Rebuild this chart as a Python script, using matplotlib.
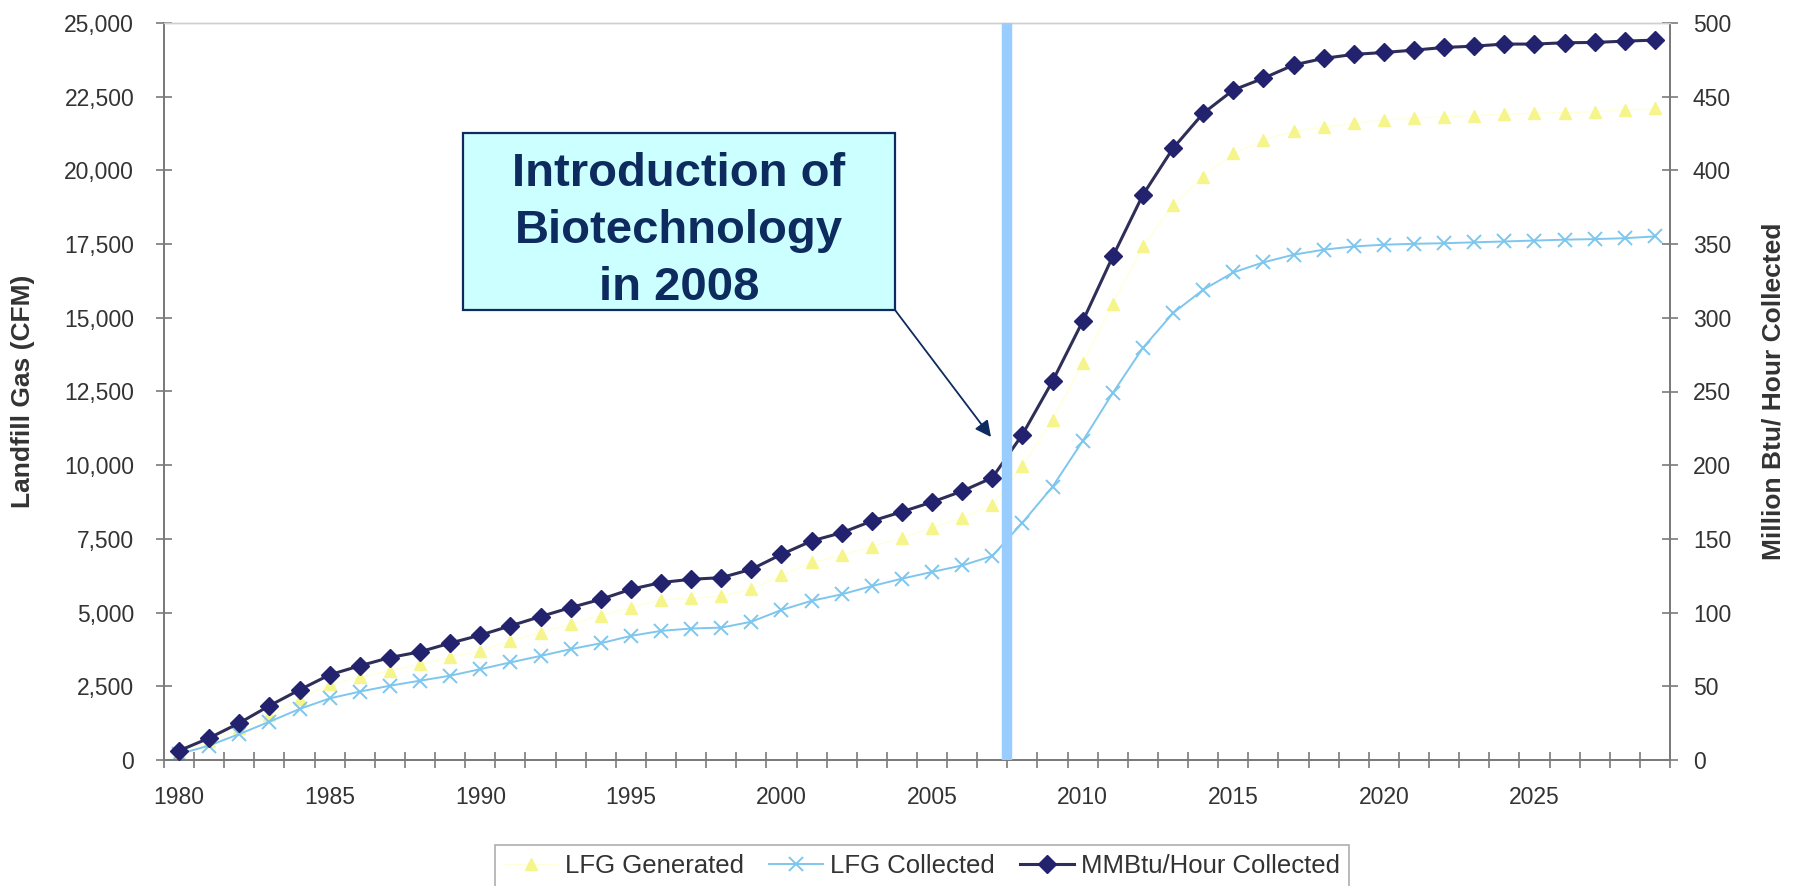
import matplotlib
matplotlib.use('Agg')
import matplotlib.pyplot as plt
from matplotlib.patches import Rectangle, FancyArrowPatch
from matplotlib.lines import Line2D
from matplotlib.ticker import FuncFormatter

plt.rcParams['font.family'] = ['Liberation Sans', 'DejaVu Sans']

# ---------------- data ----------------
years = list(range(1980, 2030))

lfg_generated = [260, 640, 1080, 1520, 2060, 2570, 2800, 3030, 3250, 3480,
                 3700, 4040, 4320, 4600, 4900, 5170, 5430, 5480, 5570, 5790,
                 6270, 6700, 6940, 7240, 7540, 7880, 8220, 8650, 9970, 11550,
                 13470, 15480, 17420, 18830, 19790, 20580, 21030, 21330, 21460, 21600,
                 21710, 21770, 21820, 21850, 21910, 21940, 21960, 21990, 22050, 22100]

lfg_collected = [200, 490, 880, 1300, 1730, 2090, 2320, 2520, 2690, 2860,
                 3080, 3310, 3530, 3760, 3960, 4210, 4380, 4460, 4490, 4690,
                 5090, 5400, 5620, 5900, 6150, 6380, 6600, 6920, 8050, 9270,
                 10820, 12450, 13980, 15160, 15950, 16540, 16880, 17140, 17310, 17420,
                 17480, 17510, 17530, 17560, 17590, 17620, 17650, 17670, 17700, 17760]

mmbtu_collected = [6.3, 14.9, 25.1, 36.8, 47.6, 57.8, 63.9, 69.5, 73.4, 79.3,
                   84.7, 91.0, 97.3, 103.4, 109.0, 115.8, 120.4, 122.6, 123.7, 129.4,
                   139.5, 148.6, 154.2, 162.1, 168.4, 175.0, 182.4, 191.5, 220.8, 257.0,
                   297.6, 341.6, 383.4, 415.0, 438.7, 454.5, 462.5, 471.5, 476.0, 478.7,
                   480.0, 481.6, 483.4, 484.3, 485.7, 485.7, 486.6, 486.8, 487.7, 488.4]

series_labels = ['LFG Generated', 'LFG Collected', 'MMBtu/Hour Collected']
left_ticks = list(range(0, 25001, 2500))
right_ticks = list(range(0, 501, 50))
x_label_years = list(range(1980, 2026, 5))
intro_year = 2007.5
annotation_text = "Introduction of\nBiotechnology\nin 2008"

# ---------------- styles ----------------
YELLOW = '#F5F58C'
YELLOW_LINE = '#FFFFDC'
LBLUE = '#7EC6EE'
NAVY = '#22226E'
NAVY_LINE = '#2E2E58'
BAR = '#99CCFF'
TXT = '#333333'
AXC = '#7A7A7A'
DARK = '#0D2B5E'

W, H = 1799, 886
fig = plt.figure(figsize=(W / 100, H / 100), dpi=100)
L, R, T, B = 164, 1670, 23, 760
ax = fig.add_axes([L / W, 1 - B / H, (R - L) / W, (B - T) / H])
ax2 = ax.twinx()

ax.plot(years, lfg_generated, color=YELLOW_LINE, lw=1.0, marker='^', ms=8,
        mfc=YELLOW, mec=YELLOW, zorder=3)
ax.plot(years, lfg_collected, color=LBLUE, lw=1.4, marker='x', ms=9.5, mew=1.4,
        mec=LBLUE, zorder=4)
ax2.plot(years, mmbtu_collected, color=NAVY_LINE, lw=2.2, marker='D', ms=9,
         mfc=NAVY, mec=NAVY, zorder=5)

ax2.axvline(intro_year, color=BAR, lw=7.5, zorder=10)

# x axis (category style)
ax.set_xlim(years[0] - 0.5, years[-1] + 0.5)
ax.set_xticks(x_label_years)
ax.set_xticks([y - 0.5 for y in years] + [years[-1] + 0.5], minor=True)
ax.tick_params(axis='x', which='major', length=0, pad=19, labelsize=16.5, labelcolor=TXT)
ax.tick_params(axis='x', which='minor', direction='inout', length=12, width=1.2, color=AXC)

ax.set_ylim(0, 25000)
ax.set_yticks(left_ticks)
ax.yaxis.set_major_formatter(FuncFormatter(lambda v, p: f'{v:,.0f}'))
ax.tick_params(axis='y', direction='inout', length=11, width=1.2, color=AXC,
               pad=16, labelsize=16.5, labelcolor=TXT)

ax2.set_ylim(0, 500)
ax2.set_yticks(right_ticks)
ax2.tick_params(axis='y', direction='inout', length=11, width=1.2, color=AXC,
                pad=11, labelsize=16.5, labelcolor=TXT)

for a in (ax, ax2):
    for s in a.spines.values():
        s.set_color(AXC)
        s.set_linewidth(1.3)
    a.spines['top'].set_color('#D0D0D0')
    a.spines['top'].set_linewidth(1.0)

ax.set_ylabel('Landfill Gas (CFM)', fontsize=19, fontweight='bold', color=TXT)
ax.yaxis.set_label_coords((35 - L) / (R - L), 0.5)
ax2.set_ylabel('Million Btu/ Hour Collected', fontsize=19, fontweight='bold', color=TXT)
ax2.yaxis.set_label_coords((1762 - L) / (R - L), 0.5)

# annotation box
bx0, by0, bx1, by1 = 463, 133, 895, 310
fig.add_artist(Rectangle((bx0 / W, 1 - by1 / H), (bx1 - bx0) / W, (by1 - by0) / H,
                         transform=fig.transFigure, facecolor='#CCFFFF',
                         edgecolor=DARK, lw=1.6, zorder=20))
fig.text((bx0 + bx1) / 2 / W, 1 - 231 / H, annotation_text,
         ha='center', va='center', fontsize=34, fontweight='bold', color=DARK,
         linespacing=1.38, zorder=21)
fig.add_artist(FancyArrowPatch((bx1 / W, 1 - by1 / H), (991 / W, 1 - 437 / H),
                               transform=fig.transFigure, arrowstyle='-|>',
                               mutation_scale=24, color=DARK, lw=1.3, zorder=21,
                               shrinkA=0, shrinkB=0))

# legend
handles = [
    Line2D([], [], color=YELLOW_LINE, lw=1.0, marker='^', ms=8, mfc=YELLOW, mec=YELLOW),
    Line2D([], [], color=LBLUE, lw=1.4, marker='x', ms=9.5, mew=1.4, mec=LBLUE),
    Line2D([], [], color=NAVY_LINE, lw=2.2, marker='D', ms=9, mfc=NAVY, mec=NAVY),
]
leg = fig.legend(handles, series_labels, loc='upper center',
                 bbox_to_anchor=(922 / W, 1 - 845 / H), ncol=3, frameon=True,
                 fancybox=False, edgecolor='#9A9A9A', fontsize=18.5, handlelength=2.1,
                 handletextpad=0.3, columnspacing=0.95, borderaxespad=0, borderpad=0.35)
leg.get_frame().set_linewidth(1.2)
for t in leg.get_texts():
    t.set_color(TXT)

fig.savefig('out.png', dpi=100, facecolor='white')
